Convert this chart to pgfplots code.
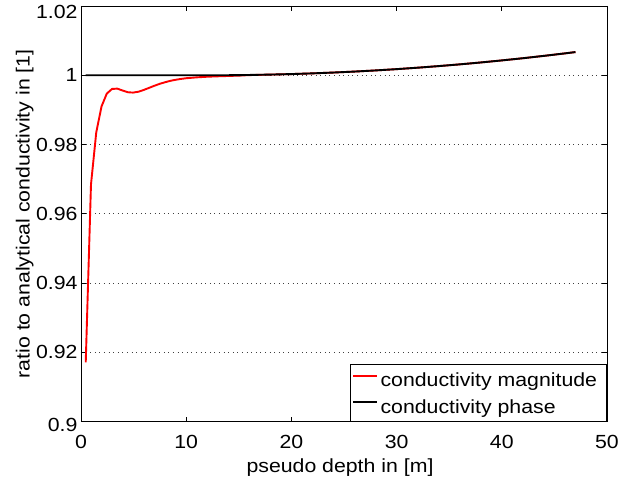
\documentclass[border=0pt]{standalone}
\usepackage{fontspec}
\setmainfont{Liberation Sans}[FakeStretch=1.12]
\usepackage{pgfplots}
\pgfplotsset{compat=1.18}
\newcommand{\fs}{\fontsize{19}{22}\selectfont}
\begin{document}
\begin{tikzpicture}
\path[use as bounding box] (-81pt,-62.3pt) rectangle (544pt,421.7pt);
\begin{axis}[
  at={(0pt,0pt)}, anchor=south west,
  scale only axis, width=526pt, height=415.7pt,
  xmin=0, xmax=50, ymin=0.9, ymax=1.02,
  xtick={0,10,20,30,40,50}, xticklabels={0,10,20,30,40,50},
  ytick={0.9,0.92,0.94,0.96,0.98,1,1.02},
  yticklabels={\raisebox{-3.3pt}[\height][\depth]{0.9},0.92,0.94,0.96,0.98,1,\raisebox{-5.5pt}[\height][\depth]{1.02}},
  tick align=inside, major tick length=5pt, minor tick num=0,
  xtick pos=both, ytick pos=both,
  axis line style={line width=0.8pt},
  every tick/.style={black, line width=0.8pt},
  ymajorgrids, major grid style={black!75, line width=0.9pt, dash pattern=on 1pt off 3.6pt},
  tick label style={font=\fs},
  xticklabel style={yshift=-10pt},
  label style={font=\fs},
  xlabel={pseudo depth in [m]},
  ylabel={ratio to analytical conductivity in [1]},
  xlabel style={at={(axis description cs:0.4924,-0.1234)}, anchor=base},
  ylabel style={at={(axis description cs:-0.0979,0.5)}, anchor=base, rotate=0},
  legend style={at={(1,0)}, anchor=south east, draw=black, line width=0.8pt,
    fill=white, font=\fs, inner xsep=1.5pt, inner ysep=6pt, row sep=9pt, column sep=0pt,
    nodes={inner xsep=2.5pt, inner ysep=2pt, text depth=0pt},
    cells={anchor=west}},
  legend image code/.code={\draw[#1] (0pt,4pt) -- (24pt,4pt);},
]
\addlegendimage{red, line width=2pt}
\addlegendentry{\makebox[222pt][l]{conductivity magnitude}}
\addlegendimage{black, line width=2pt}
\addlegendentry{conductivity phase}
\addplot[red, line width=1.9pt, forget plot] coordinates {
(0.45,0.9171) (0.95,0.9685) (1.45,0.9835) (1.95,0.9910) (2.45,0.9947)
(2.95,0.99605) (3.45,0.99615) (3.95,0.99560) (4.45,0.99510) (4.95,0.99500)
(5.45,0.99525) (5.95,0.99575) (6.5,0.99640) (7,0.99700) (7.5,0.99755)
(8,0.99800) (8.5,0.99840) (9,0.99870) (9.5,0.99895) (10,0.99915)
(11,0.99940) (12,0.99958) (13,0.99970) (14,0.99980) (15,0.99990)
(16,1.00005) (18,1.00020) (20,1.00035) (22,1.00055) (24,1.00079)
(26,1.00107) (28,1.00140) (30,1.00177) (32,1.00219) (34,1.00265)
(36,1.00315) (38,1.00370) (40,1.00429) (42,1.00492) (44,1.00560)
(46,1.00632) (47,1.00670)
};
\addplot[black, line width=1.9pt, forget plot] coordinates {
(0.45,1.0000) (2,1.0000) (4,1.0000) (6,1.0000) (8,1.0000) (10,1.0000)
(12,1.0000) (14,1.00002) (16,1.00009) (18,1.00020) (20,1.00035)
(22,1.00055) (24,1.00079) (26,1.00107) (28,1.00140) (30,1.00177)
(32,1.00219) (34,1.00265) (36,1.00315) (38,1.00370) (40,1.00429)
(42,1.00492) (44,1.00560) (46,1.00632) (47,1.00670)
};
\end{axis}
\end{tikzpicture}
\end{document}
